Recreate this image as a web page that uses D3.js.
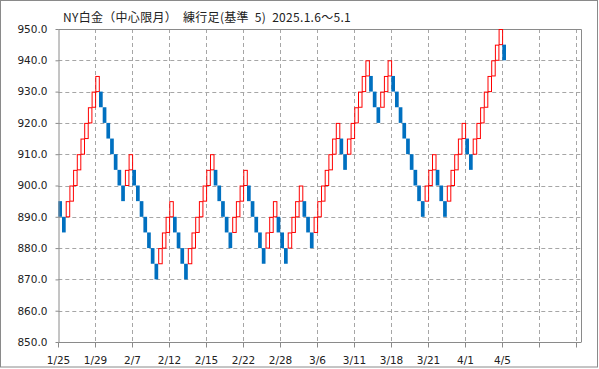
<!DOCTYPE html>
<html>
<head>
<meta charset="utf-8">
<script src="https://cdn.jsdelivr.net/npm/d3@7"></script>
<style>
  html, body { margin: 0; padding: 0; background: #fff; }
  svg { display: block; }
</style>
</head>
<body>
<div id="chart"></div>
<script>
// renko bricks (box size 5), one column per brick
const brickOpen = [
  895, 890, 890, 895, 900, 905, 910, 915, 920, 925,
  930, 930, 925, 920, 915, 910, 905, 900, 900, 905,
  905, 900, 895, 890, 885, 880, 875, 875, 880, 885,
  890, 890, 885, 880, 875, 875, 880, 885, 890, 895,
  900, 905, 905, 900, 895, 890, 885, 885, 890, 895,
  900, 900, 895, 890, 885, 880, 880, 885, 890, 890,
  885, 880, 880, 885, 890, 895, 895, 890, 885, 885,
  890, 895, 900, 905, 910, 915, 915, 910, 910, 915,
  920, 925, 930, 935, 935, 930, 925, 925, 930, 935,
  935, 930, 925, 920, 915, 910, 905, 900, 895, 895,
  900, 905, 905, 900, 895, 895, 900, 905, 910, 915,
  915, 910, 910, 915, 920, 925, 930, 935, 940, 945,
  945
];
const brickClose = [
  890, 885, 895, 900, 905, 910, 915, 920, 925, 930,
  935, 925, 920, 915, 910, 905, 900, 895, 905, 910,
  900, 895, 890, 885, 880, 875, 870, 880, 885, 890,
  895, 885, 880, 875, 870, 880, 885, 890, 895, 900,
  905, 910, 900, 895, 890, 885, 880, 890, 895, 900,
  905, 895, 890, 885, 880, 875, 885, 890, 895, 885,
  880, 875, 885, 890, 895, 900, 890, 885, 880, 890,
  895, 900, 905, 910, 915, 920, 910, 905, 915, 920,
  925, 930, 935, 940, 930, 925, 920, 930, 935, 940,
  930, 925, 920, 915, 910, 905, 900, 895, 890, 900,
  905, 910, 900, 895, 890, 900, 905, 910, 915, 920,
  910, 905, 915, 920, 925, 930, 935, 940, 945, 950,
  940
];

const xTickIdx  = [0, 10, 20, 30, 40, 50, 60, 70, 80, 90, 100, 110, 120, 130, 140];
const xTickText = ["1/25", "1/29", "2/7", "2/12", "2/15", "2/22", "2/28", "3/6",
                   "3/11", "3/18", "3/21", "4/1", "4/5", "", ""];
const yTicks = [850, 860, 870, 880, 890, 900, 910, 920, 930, 940, 950];
const titleText = "NY白金（中心限月）  練行足(基準  5)  2025.1.6～5.1";

const W = 599, H = 369;
const plot = { l: 58.3, t: 29, r: 581, b: 342 };
const slotW = 3.7;

const x = d3.scaleLinear()
  .domain([0, (plot.r - plot.l) / slotW])
  .range([plot.l, plot.r]);
const y = d3.scaleLinear().domain([850, 950]).range([plot.b, plot.t]);

const bricks = brickOpen.map((o, i) => ({
  i, open: o, close: brickClose[i], up: brickClose[i] > o
}));

const svg = d3.select("#chart").append("svg")
  .attr("width", W).attr("height", H)
  .attr("viewBox", [0, 0, W, H]);

// outer frame
svg.append("rect")
  .attr("x", 0.5).attr("y", 0.5)
  .attr("width", W - 2).attr("height", H - 2.5)
  .attr("fill", "#fff")
  .attr("stroke", "#8a8a8a");

svg.append("text")
  .attr("x", 63).attr("y", 22)
  .attr("font-family", "'Noto Sans CJK JP', 'Noto Sans', sans-serif")
  .attr("font-size", 12)
  .attr("letter-spacing", 0.3)
  .attr("fill", "#222")
  .style("white-space", "pre")
  .text(titleText);

// grid
const grid = svg.append("g").attr("stroke", "#a6a6a6").attr("stroke-dasharray", "4,3");
grid.selectAll("line.h")
  .data(yTicks.filter(v => v > 850 && v < 950))
  .join("line")
  .attr("x1", plot.l).attr("x2", plot.r)
  .attr("y1", d => Math.round(y(d)) + 0.5).attr("y2", d => Math.round(y(d)) + 0.5);
grid.selectAll("line.v")
  .data(xTickIdx.filter(d => d > 0))
  .join("line")
  .attr("y1", plot.t).attr("y2", plot.b)
  .attr("x1", d => Math.round(x(d)) + 0.5).attr("x2", d => Math.round(x(d)) + 0.5);

// plot border (top / right)
svg.append("path")
  .attr("d", `M${plot.l},${plot.t + 0.5}H${plot.r + 0.5}V${plot.b}`)
  .attr("fill", "none")
  .attr("stroke", "#8a8a8a");

// bricks
const gB = svg.append("g");
gB.selectAll("rect")
  .data(bricks)
  .join("rect")
  .attr("x", d => d.up ? x(d.i) + 0.5 : x(d.i))
  .attr("width", d => d.up ? slotW - 0.2 : slotW)
  .attr("y", d => y(Math.max(d.open, d.close)) + (d.up ? 0.5 : 0))
  .attr("height", d => Math.abs(y(d.open) - y(d.close)) - (d.up ? 0.5 : 0))
  .attr("fill", d => d.up ? "none" : "#0070c0")
  .attr("stroke", d => d.up ? "#ff0000" : "none")
  .attr("stroke-width", 1);

// axes
const yAxis = svg.append("g")
  .attr("transform", `translate(${Math.round(plot.l) + 0.5},0)`)
  .call(d3.axisLeft(y).tickValues(yTicks).tickFormat(d3.format(".1f"))
    .tickSize(3).tickPadding(8).tickSizeOuter(0));

const xAxis = svg.append("g")
  .attr("transform", `translate(0,${plot.b + 0.5})`)
  .call(d3.axisBottom(x).tickValues(xTickIdx)
    .tickFormat((d, k) => xTickText[k])
    .tickSize(5).tickPadding(9).tickSizeOuter(0));

xAxis.selectAll(".tick").attr("transform", d => `translate(${Math.round(x(d)) + 0.5},0)`);
xAxis.select(".domain").attr("d", `M${plot.l},0H${plot.r + 0.5}`);

[yAxis, xAxis].forEach(g => {
  g.select(".domain").attr("stroke", "#8a8a8a");
  g.selectAll(".tick line").attr("stroke", "#8a8a8a");
  g.selectAll("text")
    .attr("font-family", "'DejaVu Sans', Verdana, sans-serif")
    .attr("font-size", 10.5)
    .attr("fill", "#222");
});
</script>
</body>
</html>
